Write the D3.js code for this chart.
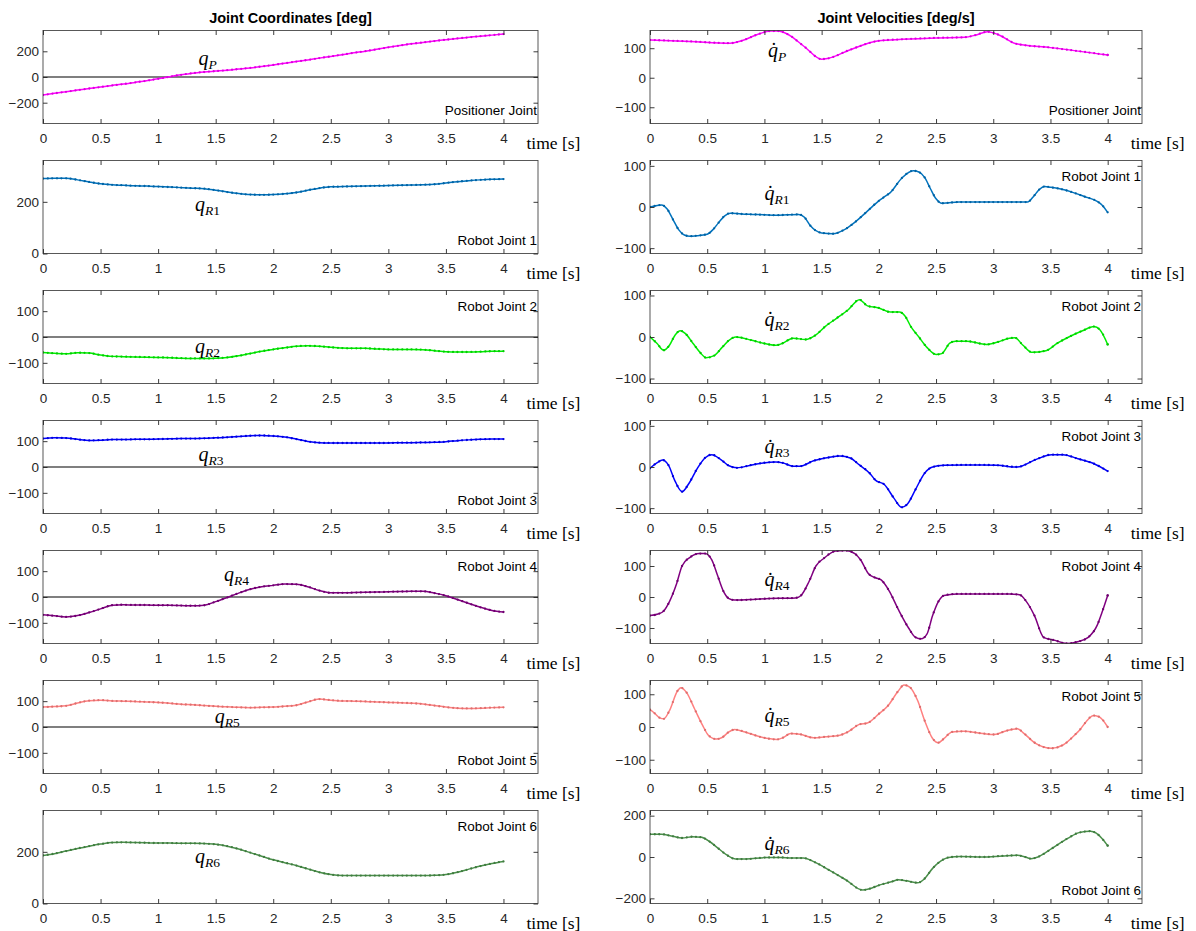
<!DOCTYPE html>
<html><head><meta charset="utf-8">
<script src="https://cdn.jsdelivr.net/npm/d3@7/dist/d3.min.js"></script>
<style>body{margin:0;background:#fff}</style>
</head><body><svg id="c" width="1196" height="931"></svg>
<script>
// ---------- DATA ----------
const timeGrid = [0,0.1,0.2,0.3,0.4,0.5,0.6,0.7,0.8,0.9,1.0,1.1,1.2,1.3,1.4,1.5,1.6,1.7,1.8,1.9,2.0,
                  2.1,2.2,2.3,2.4,2.5,2.6,2.7,2.8,2.9,3.0,3.1,3.2,3.3,3.4,3.5,3.6,3.7,3.8,3.9,4.0];
const xTicks = [0,0.5,1,1.5,2,2.5,3,3.5,4];

// joint coordinates [deg] on timeGrid
const qP  = [-140,-127,-115,-102,-90,-78,-66,-55,-42,-29,-14,2,17,30,39,46,53,62,71,82,94,107,120,133,147,160,174,188,201,216,231,245,258,269,280,290,300,309,318,326,334];
const qR1 = [290,291,291,285,277,270,266,264,262,261,259,257,255,253,251,245,238,232,228,227,228,231,236,245,253,258,259,260,261,262,263,264,265,266,268,273,278,282,285,287,288];
const qR2 = [-60,-63,-65,-61,-62,-70,-75,-76,-77,-78,-79,-80,-82,-83,-83,-82,-79,-73,-64,-55,-48,-42,-36,-34,-36,-40,-43,-44,-44,-46,-48,-48,-48,-49,-53,-57,-58,-58,-57,-55,-55];
const qR3 = [110,113,112,107,103,104,106,106,107,107,108,109,110,110,111,113,115,118,121,122,120,116,108,99,94,93,93,93,93,93,93,94,94,95,96,98,102,105,107,108,108];
const qR4 = [-69,-73,-77,-72,-60,-46,-32,-30,-31,-31,-32,-32,-33,-34,-32,-18,-2,15,30,40,45,50,49,40,25,16,16,17,18,19,20,21,22,22,15,5,-10,-25,-40,-52,-58];
const qR5 = [77,79,82,93,102,104,101,100,99,97,95,92,88,86,83,80,78,76,75,76,77,80,84,97,108,104,101,100,99,97,95,94,92,89,83,77,73,72,73,75,76];
const qR6 = [186,193,203,213,222,230,236,237,236,235,234,234,233,233,232,229,222,211,197,183,169,158,147,134,121,112,108,108,108,108,108,108,108,108,109,112,121,133,145,155,163];

// joint velocities [deg/s] as [time, value]
const dqP = [[0,128],[0.35,123],[0.7,117],[0.8,125],[0.95,148],[1.05,158],[1.12,158],[1.2,148],[1.35,105],[1.5,63],[1.55,65],[1.75,95],[2.0,125],[2.2,130],[2.5,135],[2.75,137],[2.85,145],[2.95,156],[3.05,145],[3.2,115],[3.5,102],[4.0,77]];
const dqR1 = [[0,0],[0.05,3],[0.1,5],[0.15,-5],[0.2,-30],[0.25,-55],[0.3,-68],[0.35,-71],[0.4,-70],[0.5,-66],[0.55,-55],[0.6,-38],[0.65,-22],[0.7,-15],[0.8,-17],[0.9,-18],[1.0,-19],[1.1,-20],[1.2,-19],[1.3,-18],[1.35,-25],[1.4,-45],[1.5,-63],[1.6,-65],[1.7,-55],[1.8,-35],[1.9,-10],[2.0,15],[2.05,25],[2.1,35],[2.2,70],[2.3,88],[2.35,85],[2.4,72],[2.45,45],[2.5,20],[2.55,9],[2.6,10],[2.7,12],[2.8,12],[2.9,12],[3.0,12],[3.1,12],[3.2,12],[3.3,12],[3.35,25],[3.4,42],[3.45,50],[3.5,48],[3.6,43],[3.7,35],[3.8,25],[3.9,15],[3.95,5],[4.0,-13]];
const dqR2 = [[0,0],[0.06,-15],[0.12,-32],[0.17,-20],[0.22,5],[0.265,15],[0.31,8],[0.375,-15],[0.44,-38],[0.49,-50],[0.56,-45],[0.63,-25],[0.69,-8],[0.75,0],[0.89,-8],[0.99,-15],[1.1,-20],[1.16,-15],[1.25,-3],[1.36,-6],[1.45,5],[1.53,25],[1.63,45],[1.73,65],[1.83,90],[1.9,75],[2.0,70],[2.1,60],[2.18,60],[2.23,50],[2.28,25],[2.35,0],[2.42,-25],[2.5,-42],[2.55,-40],[2.62,-15],[2.67,-10],[2.77,-10],[2.87,-15],[2.94,-18],[3.04,-12],[3.14,-3],[3.19,-2],[3.26,-20],[3.34,-37],[3.46,-33],[3.56,-15],[3.66,0],[3.78,15],[3.88,25],[3.93,18],[4.0,-18]];
const dqR3 = [[0,-3],[0.06,10],[0.11,17],[0.16,5],[0.22,-35],[0.28,-60],[0.34,-40],[0.41,-5],[0.48,22],[0.54,30],[0.61,20],[0.69,3],[0.76,-2],[0.89,5],[0.99,10],[1.1,12],[1.16,10],[1.25,2],[1.31,2],[1.43,15],[1.56,23],[1.66,27],[1.75,22],[1.83,5],[1.92,-15],[1.97,-32],[2.05,-43],[2.13,-75],[2.2,-98],[2.25,-90],[2.32,-55],[2.4,-15],[2.47,0],[2.57,4],[2.74,5],[2.9,5],[3.04,4],[3.21,0],[3.37,18],[3.51,30],[3.61,30],[3.74,20],[3.88,8],[4.0,-10]];
const dqR4 = [[0,-60],[0.07,-55],[0.12,-45],[0.17,-15],[0.23,40],[0.28,100],[0.35,128],[0.43,140],[0.48,140],[0.54,120],[0.59,70],[0.64,20],[0.69,-5],[0.74,-10],[0.9,-8],[1.04,-5],[1.17,-4],[1.27,-3],[1.32,5],[1.39,50],[1.45,100],[1.52,125],[1.62,148],[1.71,150],[1.79,140],[1.84,120],[1.91,75],[1.97,62],[2.02,55],[2.09,20],[2.17,-40],[2.26,-100],[2.32,-130],[2.37,-135],[2.42,-120],[2.47,-60],[2.52,-15],[2.57,5],[2.68,10],[2.91,10],[3.14,10],[3.23,7],[3.29,-15],[3.36,-60],[3.44,-130],[3.54,-140],[3.64,-150],[3.73,-145],[3.83,-130],[3.91,-90],[3.95,-50],[4.0,5]];
const dqR5 = [[0,53],[0.04,42],[0.09,27],[0.12,25],[0.17,50],[0.24,110],[0.27,120],[0.32,105],[0.39,55],[0.46,5],[0.51,-25],[0.58,-37],[0.63,-32],[0.69,-15],[0.74,-8],[0.83,-15],[0.96,-30],[1.11,-38],[1.16,-33],[1.23,-20],[1.31,-22],[1.43,-33],[1.53,-30],[1.66,-25],[1.73,-15],[1.83,8],[1.9,12],[2.0,40],[2.08,65],[2.17,110],[2.22,128],[2.27,122],[2.34,80],[2.4,20],[2.47,-35],[2.52,-48],[2.57,-35],[2.64,-15],[2.74,-13],[2.91,-20],[3.01,-23],[3.11,-12],[3.21,-5],[3.27,-20],[3.37,-50],[3.51,-65],[3.61,-55],[3.74,-15],[3.88,35],[3.93,30],[4.0,0]];
const dqR6 = [[0,110],[0.1,110],[0.2,100],[0.28,92],[0.37,98],[0.45,95],[0.52,75],[0.6,40],[0.67,10],[0.75,-10],[0.84,-10],[1.0,-3],[1.14,-2],[1.24,-5],[1.34,-5],[1.44,-25],[1.57,-65],[1.71,-110],[1.86,-160],[1.91,-155],[2.01,-135],[2.11,-120],[2.17,-110],[2.24,-115],[2.34,-125],[2.39,-110],[2.47,-55],[2.54,-20],[2.61,-2],[2.71,2],[2.91,0],[3.08,5],[3.21,8],[3.28,0],[3.33,-8],[3.39,0],[3.51,40],[3.65,90],[3.75,118],[3.85,125],[3.9,115],[3.95,90],[4.0,55]];

const jointNames = ["Positioner Joint","Robot Joint 1","Robot Joint 2","Robot Joint 3","Robot Joint 4","Robot Joint 5","Robot Joint 6"];
const colors = ["#ff00ff","#0072bd","#00ee00","#0000ff","#800080","#ff8080","#4a8f4a"];
const posTicks = [[-200,0,200],[0,200],[-100,0,100],[-100,0,100],[-100,0,100],[-100,0,100],[0,200]];
const velTicks = [[-100,0,100],[-100,0,100],[-100,0,100],[-100,0,100],[-100,0,100],[-100,0,100],[-200,0,200]];
const posLimits = [[-362,362],[0,360],[-180,180],[-180,180],[-180,180],[-180,180],[0,360]];
const velLimits = [[-155,160],[-113,113],[-112,112],[-113,113],[-150,150],[-142,142],[-225,225]];

// ---------- LAYOUT ----------
const svg = d3.select("#c");
const cols = [{x0:43,x1:538,title:"Joint Coordinates [deg]"},{x0:650,x1:1142,title:"Joint Velocities [deg/s]"}];
const rowTop0 = 30.5, rowStep = 130, boxH = 93;
const tickFont = "'Liberation Sans', Arial, sans-serif";
const serif = "'Liberation Serif','DejaVu Serif',serif";
const axisColor = "#262626";

const posSeries = [qP,qR1,qR2,qR3,qR4,qR5,qR6].map(v => v.map((y,i)=>[timeGrid[i],y]));
const velSeries = [dqP,dqR1,dqR2,dqR3,dqR4,dqR5,dqR6];
const posZero = [true,false,true,true,true,true,false];
const posLabelTop = [false,false,true,false,true,false,true];
const velLabelTop = [false,true,true,true,true,true,false];
const posSym = [[1.43,125],[1.43,180],[1.43,-45],[1.46,39],[1.68,78],[1.6,32],[1.43,172]];
const velSym = [[1.11,85],[1.11,27],[1.11,37],[1.11,43],[1.11,48],[1.11,28],[1.11,53]];

cols.forEach((c,ci)=>{
  svg.append("text").attr("x",(c.x0+c.x1)/2).attr("y",23).attr("text-anchor","middle")
    .attr("font-family",tickFont).attr("font-weight","bold").attr("font-size",14.5).attr("fill","#000").text(c.title);
});

function drawPanel(ci, ri, data, domain, ticks, color, zero, labelTop, name, sym, dotted){
  const c = cols[ci];
  const top = rowTop0 + ri*rowStep, bot = top + boxH;
  const x = d3.scaleLinear().domain([0,4.3]).range([c.x0,c.x1]);
  const y = d3.scaleLinear().domain(domain).range([bot,top]);
  const g = svg.append("g");
  const clipId = "clip"+ci+"_"+ri;
  g.append("clipPath").attr("id",clipId).append("rect").attr("x",c.x0).attr("y",top).attr("width",c.x1-c.x0).attr("height",boxH);

  if(zero){
    g.append("line").attr("x1",c.x0).attr("x2",c.x1).attr("y1",y(0)).attr("y2",y(0)).attr("stroke","#000").attr("stroke-width",1.1);
  }
  const line = d3.line().x(d=>x(d[0])).y(d=>y(d[1])).curve(d3.curveMonotoneX);
  const p = g.append("path").datum(data).attr("d",line).attr("fill","none").attr("stroke",color)
     .attr("stroke-width",1.5).attr("clip-path","url(#"+clipId+")");
  const node = p.node(), L = node.getTotalLength();
  const pts = []; let nt = 0;
  for(let l=0;l<=L;l+=0.4){
    const q = node.getPointAtLength(l);
    if(q.x >= x(nt)-0.05){ pts.push(q); nt += 0.04; }
  }
  pts.push(node.getPointAtLength(L));
  g.append("g").attr("clip-path","url(#"+clipId+")").selectAll("circle").data(pts).join("circle")
    .attr("cx",d=>d.x).attr("cy",d=>d.y).attr("r",1.15).attr("fill",d3.color(color).darker(0.4));

  g.append("rect").attr("x",c.x0).attr("y",top).attr("width",c.x1-c.x0).attr("height",boxH)
    .attr("fill","none").attr("stroke",axisColor).attr("stroke-width",0.9).attr("stroke-opacity",0.85);
  const tl = 4.5;
  const gxb = g.append("g").attr("transform",`translate(0,${bot})`)
    .call(d3.axisBottom(x).tickValues(xTicks).tickSize(-tl).tickPadding(10).tickFormat(d3.format("~g")));
  const gxt = g.append("g").attr("transform",`translate(0,${top})`)
    .call(d3.axisTop(x).tickValues(xTicks).tickSize(-tl).tickFormat(""));
  const gyl = g.append("g").attr("transform",`translate(${c.x0},0)`)
    .call(d3.axisLeft(y).tickValues(ticks).tickSize(-tl).tickPadding(4).tickFormat(d3.format("~g")));
  const gyr = g.append("g").attr("transform",`translate(${c.x1},0)`)
    .call(d3.axisRight(y).tickValues(ticks).tickSize(-tl).tickFormat(""));
  [gxb,gxt,gyl,gyr].forEach(a=>{
    a.select(".domain").remove();
    a.selectAll("line").attr("stroke",axisColor).attr("stroke-width",0.9);
    a.selectAll("text").attr("font-family",tickFont).attr("font-size",13.5).attr("fill",axisColor);
  });
  gxb.selectAll("text").attr("dy","0.71em");
  g.append("text").attr("x",x(4)+23).attr("y",bot+25).attr("font-family",serif).attr("font-size",17.5)
    .attr("fill","#000").text("time [s]");
  g.append("text").attr("x",c.x1-1).attr("y",labelTop? top+20 : bot-9).attr("text-anchor","end")
    .attr("font-family",tickFont).attr("font-size",13.5).attr("fill","#000").text(name);
  // symbol label (q or q-dot with subscript)
  const sx = x(sym[0]), sy = y(sym[1]) + 4;
  const t = g.append("text").attr("x",sx).attr("y",sy).attr("text-anchor","middle").attr("font-family",serif).attr("fill","#000");
  t.append("tspan").attr("font-style","italic").attr("font-size",20).text(dotted ? "q\u0307" : "q");
  t.append("tspan").attr("font-style","italic").attr("font-size",13.5).attr("dy",4).text(name.startsWith("Pos")?"P":"R");
  const sub2 = name.startsWith("Pos") ? "" : name.slice(-1);
  if(sub2) t.append("tspan").attr("font-size",13.5).text(sub2);
}

for(let r=0;r<7;r++){
  drawPanel(0,r,posSeries[r],posLimits[r],posTicks[r],colors[r],posZero[r],posLabelTop[r],jointNames[r],posSym[r],false);
  drawPanel(1,r,velSeries[r],velLimits[r],velTicks[r],colors[r],false,velLabelTop[r],jointNames[r],velSym[r],true);
}
</script></body></html>
